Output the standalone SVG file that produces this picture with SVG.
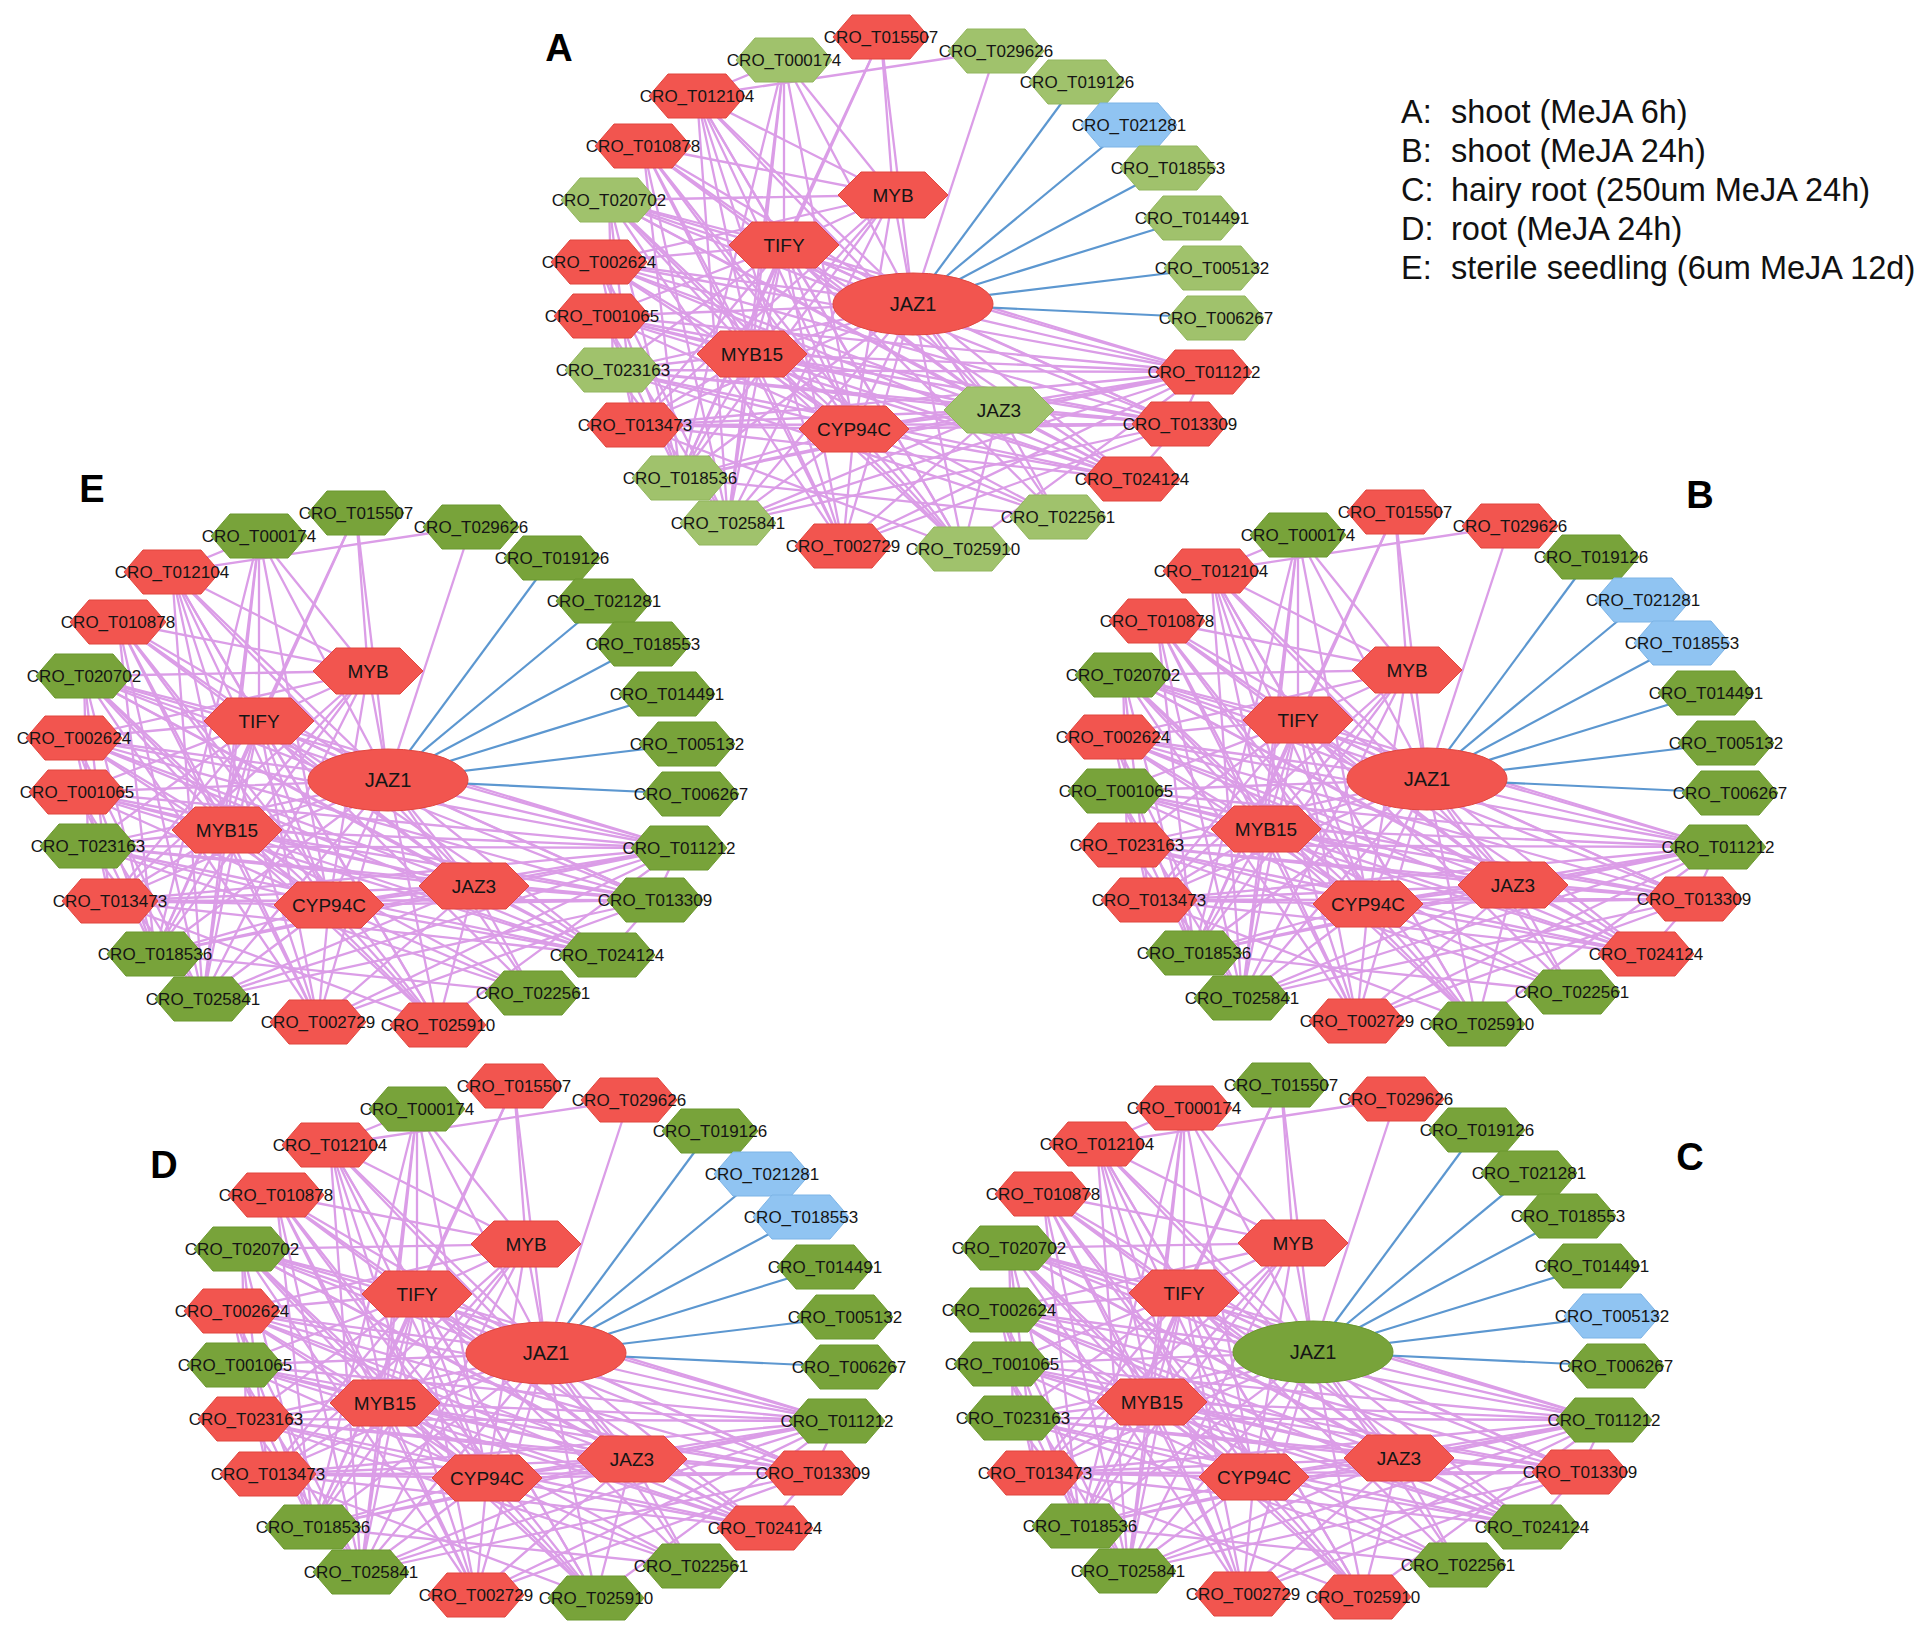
<svg xmlns="http://www.w3.org/2000/svg" xmlns:xlink="http://www.w3.org/1999/xlink" width="1932" height="1636" viewBox="0 0 1932 1636">
<style>
.r{fill:#F2554F;stroke:#E0463F;stroke-width:1}
.g{fill:#78A33A;stroke:#6B982E;stroke-width:1}
.lg{fill:#A0C26C;stroke:#92B65E;stroke-width:1}
.b{fill:#90C4F2;stroke:#7DB4E6;stroke-width:1}
text.n{font-family:"Liberation Sans",Arial,sans-serif;font-size:17px;fill:#151515;text-anchor:middle}
text.i{font-size:19px}
text.j{font-size:20px}
.lab{font-family:"Liberation Sans",Arial,sans-serif;font-weight:bold;font-size:38px;fill:#000;text-anchor:middle}
.leg{font-family:"Liberation Sans",Arial,sans-serif;font-size:32.5px;fill:#111}
</style>
<defs>
<polygon id="ho" points="-48,0 -29,-22 29,-22 48,0 29,22 -29,22"/>
<polygon id="hi" points="-55,0 -32,-23 32,-23 55,0 32,23 -32,23"/>
<g id="netedges">
<g stroke="#DB9DE7" stroke-width="2.3" stroke-linecap="round" fill="none">
<line x1="0" y1="0" x2="-32" y2="-267"/>
<line x1="0" y1="0" x2="83" y2="-253"/>
<line x1="0" y1="0" x2="-129" y2="-244"/>
<line x1="0" y1="0" x2="-216" y2="-208"/>
<line x1="0" y1="0" x2="-270" y2="-158"/>
<line x1="0" y1="0" x2="-304" y2="-104"/>
<line x1="0" y1="0" x2="-314" y2="-42"/>
<line x1="0" y1="0" x2="-311" y2="12"/>
<line x1="0" y1="0" x2="-300" y2="66"/>
<line x1="0" y1="0" x2="-278" y2="121"/>
<line x1="0" y1="0" x2="-233" y2="174"/>
<line x1="0" y1="0" x2="-185" y2="219"/>
<line x1="0" y1="0" x2="-70" y2="242"/>
<line x1="0" y1="0" x2="50" y2="245"/>
<line x1="0" y1="0" x2="145" y2="213"/>
<line x1="0" y1="0" x2="219" y2="175"/>
<line x1="0" y1="0" x2="267" y2="120"/>
<line x1="0" y1="0" x2="291" y2="68"/>
<line x1="0" y1="0" x2="-20" y2="-109"/>
<line x1="0" y1="0" x2="-129" y2="-59"/>
<line x1="0" y1="0" x2="-161" y2="50"/>
<line x1="0" y1="0" x2="-59" y2="125"/>
<line x1="0" y1="0" x2="86" y2="106"/>
<line x1="-20" y1="-109" x2="-32" y2="-267"/>
<line x1="-20" y1="-109" x2="-129" y2="-244"/>
<line x1="-20" y1="-109" x2="-216" y2="-208"/>
<line x1="-20" y1="-109" x2="-270" y2="-158"/>
<line x1="-20" y1="-109" x2="-304" y2="-104"/>
<line x1="-20" y1="-109" x2="-314" y2="-42"/>
<line x1="-20" y1="-109" x2="-129" y2="-59"/>
<line x1="-20" y1="-109" x2="-161" y2="50"/>
<line x1="-20" y1="-109" x2="-59" y2="125"/>
<line x1="-20" y1="-109" x2="-278" y2="121"/>
<line x1="-20" y1="-109" x2="-185" y2="219"/>
<line x1="-20" y1="-109" x2="-233" y2="174"/>
<line x1="-129" y1="-59" x2="-32" y2="-267"/>
<line x1="-129" y1="-59" x2="-129" y2="-244"/>
<line x1="-129" y1="-59" x2="-216" y2="-208"/>
<line x1="-129" y1="-59" x2="-270" y2="-158"/>
<line x1="-129" y1="-59" x2="-304" y2="-104"/>
<line x1="-129" y1="-59" x2="-314" y2="-42"/>
<line x1="-129" y1="-59" x2="-311" y2="12"/>
<line x1="-129" y1="-59" x2="-300" y2="66"/>
<line x1="-129" y1="-59" x2="-278" y2="121"/>
<line x1="-129" y1="-59" x2="-233" y2="174"/>
<line x1="-129" y1="-59" x2="-185" y2="219"/>
<line x1="-129" y1="-59" x2="-70" y2="242"/>
<line x1="-129" y1="-59" x2="50" y2="245"/>
<line x1="-129" y1="-59" x2="145" y2="213"/>
<line x1="-129" y1="-59" x2="219" y2="175"/>
<line x1="-129" y1="-59" x2="267" y2="120"/>
<line x1="-129" y1="-59" x2="291" y2="68"/>
<line x1="-129" y1="-59" x2="-161" y2="50"/>
<line x1="-129" y1="-59" x2="-59" y2="125"/>
<line x1="-129" y1="-59" x2="86" y2="106"/>
<line x1="-161" y1="50" x2="-129" y2="-244"/>
<line x1="-161" y1="50" x2="-216" y2="-208"/>
<line x1="-161" y1="50" x2="-270" y2="-158"/>
<line x1="-161" y1="50" x2="-304" y2="-104"/>
<line x1="-161" y1="50" x2="-314" y2="-42"/>
<line x1="-161" y1="50" x2="-311" y2="12"/>
<line x1="-161" y1="50" x2="-300" y2="66"/>
<line x1="-161" y1="50" x2="-278" y2="121"/>
<line x1="-161" y1="50" x2="-233" y2="174"/>
<line x1="-161" y1="50" x2="-185" y2="219"/>
<line x1="-161" y1="50" x2="-70" y2="242"/>
<line x1="-161" y1="50" x2="50" y2="245"/>
<line x1="-161" y1="50" x2="145" y2="213"/>
<line x1="-161" y1="50" x2="219" y2="175"/>
<line x1="-161" y1="50" x2="267" y2="120"/>
<line x1="-161" y1="50" x2="291" y2="68"/>
<line x1="-161" y1="50" x2="-59" y2="125"/>
<line x1="-161" y1="50" x2="86" y2="106"/>
<line x1="-59" y1="125" x2="-129" y2="-244"/>
<line x1="-59" y1="125" x2="-216" y2="-208"/>
<line x1="-59" y1="125" x2="-270" y2="-158"/>
<line x1="-59" y1="125" x2="-304" y2="-104"/>
<line x1="-59" y1="125" x2="-314" y2="-42"/>
<line x1="-59" y1="125" x2="-311" y2="12"/>
<line x1="-59" y1="125" x2="-300" y2="66"/>
<line x1="-59" y1="125" x2="-278" y2="121"/>
<line x1="-59" y1="125" x2="-233" y2="174"/>
<line x1="-59" y1="125" x2="-185" y2="219"/>
<line x1="-59" y1="125" x2="-70" y2="242"/>
<line x1="-59" y1="125" x2="50" y2="245"/>
<line x1="-59" y1="125" x2="145" y2="213"/>
<line x1="-59" y1="125" x2="219" y2="175"/>
<line x1="-59" y1="125" x2="267" y2="120"/>
<line x1="-59" y1="125" x2="291" y2="68"/>
<line x1="-59" y1="125" x2="86" y2="106"/>
<line x1="86" y1="106" x2="-216" y2="-208"/>
<line x1="86" y1="106" x2="-270" y2="-158"/>
<line x1="86" y1="106" x2="-304" y2="-104"/>
<line x1="86" y1="106" x2="-314" y2="-42"/>
<line x1="86" y1="106" x2="-311" y2="12"/>
<line x1="86" y1="106" x2="-300" y2="66"/>
<line x1="86" y1="106" x2="-278" y2="121"/>
<line x1="86" y1="106" x2="-233" y2="174"/>
<line x1="86" y1="106" x2="-185" y2="219"/>
<line x1="86" y1="106" x2="-70" y2="242"/>
<line x1="86" y1="106" x2="50" y2="245"/>
<line x1="86" y1="106" x2="145" y2="213"/>
<line x1="86" y1="106" x2="219" y2="175"/>
<line x1="86" y1="106" x2="267" y2="120"/>
<line x1="86" y1="106" x2="291" y2="68"/>
<line x1="83" y1="-253" x2="-216" y2="-208"/>
<line x1="-129" y1="-244" x2="-216" y2="-208"/>
<line x1="-129" y1="-244" x2="-185" y2="219"/>
<line x1="-129" y1="-244" x2="-233" y2="174"/>
<line x1="-216" y1="-208" x2="-185" y2="219"/>
<line x1="-216" y1="-208" x2="-70" y2="242"/>
<line x1="-216" y1="-208" x2="50" y2="245"/>
<line x1="-270" y1="-158" x2="-233" y2="174"/>
<line x1="-270" y1="-158" x2="-185" y2="219"/>
<line x1="-270" y1="-158" x2="50" y2="245"/>
<line x1="-270" y1="-158" x2="-70" y2="242"/>
<line x1="-304" y1="-104" x2="-300" y2="66"/>
<line x1="-304" y1="-104" x2="-278" y2="121"/>
<line x1="-304" y1="-104" x2="-233" y2="174"/>
<line x1="-304" y1="-104" x2="291" y2="68"/>
<line x1="-304" y1="-104" x2="267" y2="120"/>
<line x1="-304" y1="-104" x2="219" y2="175"/>
<line x1="-304" y1="-104" x2="-70" y2="242"/>
<line x1="-304" y1="-104" x2="50" y2="245"/>
<line x1="-314" y1="-42" x2="-278" y2="121"/>
<line x1="-314" y1="-42" x2="-233" y2="174"/>
<line x1="-314" y1="-42" x2="291" y2="68"/>
<line x1="-314" y1="-42" x2="267" y2="120"/>
<line x1="-314" y1="-42" x2="219" y2="175"/>
<line x1="-314" y1="-42" x2="-185" y2="219"/>
<line x1="-311" y1="12" x2="-233" y2="174"/>
<line x1="-311" y1="12" x2="291" y2="68"/>
<line x1="-311" y1="12" x2="267" y2="120"/>
<line x1="-311" y1="12" x2="219" y2="175"/>
<line x1="-311" y1="12" x2="-185" y2="219"/>
<line x1="-300" y1="66" x2="291" y2="68"/>
<line x1="-300" y1="66" x2="267" y2="120"/>
<line x1="-300" y1="66" x2="219" y2="175"/>
<line x1="-300" y1="66" x2="145" y2="213"/>
<line x1="-300" y1="66" x2="-185" y2="219"/>
<line x1="-278" y1="121" x2="291" y2="68"/>
<line x1="-278" y1="121" x2="267" y2="120"/>
<line x1="-278" y1="121" x2="219" y2="175"/>
<line x1="-278" y1="121" x2="50" y2="245"/>
<line x1="-233" y1="174" x2="291" y2="68"/>
<line x1="-233" y1="174" x2="145" y2="213"/>
<line x1="-185" y1="219" x2="291" y2="68"/>
<line x1="-185" y1="219" x2="267" y2="120"/>
<line x1="-70" y1="242" x2="291" y2="68"/>
<line x1="-70" y1="242" x2="267" y2="120"/>
<line x1="50" y1="245" x2="291" y2="68"/>
<line x1="291" y1="68" x2="267" y2="120"/>
<line x1="267" y1="120" x2="219" y2="175"/>
<line x1="-32" y1="-267" x2="-233" y2="174"/>
</g>
<g stroke="#5C97D0" stroke-width="2.2" fill="none">
<line x1="0" y1="0" x2="164" y2="-222"/>
<line x1="0" y1="0" x2="216" y2="-179"/>
<line x1="0" y1="0" x2="255" y2="-136"/>
<line x1="0" y1="0" x2="279" y2="-86"/>
<line x1="0" y1="0" x2="299" y2="-36"/>
<line x1="0" y1="0" x2="303" y2="14"/>
</g>
</g>
</defs>
<rect width="1932" height="1636" fill="#fff"/>

<g id="connectors">
<use id="edges-A" xlink:href="#netedges" href="#netedges" transform="translate(913,304)"/>
<use id="edges-E" xlink:href="#netedges" href="#netedges" transform="translate(388,780)"/>
<use id="edges-B" xlink:href="#netedges" href="#netedges" transform="translate(1427,779)"/>
<use id="edges-D" xlink:href="#netedges" href="#netedges" transform="translate(546,1353)"/>
<use id="edges-C" xlink:href="#netedges" href="#netedges" transform="translate(1313,1352)"/>
</g>

<!-- Network A -->
<g id="netA" transform="translate(913,304)">
<g id="A-T015507" transform="translate(-32,-267)"><use href="#ho" class="r"/><text class="n" y="6">CRO_T015507</text></g>
<g id="A-T029626" transform="translate(83,-253)"><use href="#ho" class="lg"/><text class="n" y="6">CRO_T029626</text></g>
<g id="A-T019126" transform="translate(164,-222)"><use href="#ho" class="lg"/><text class="n" y="6">CRO_T019126</text></g>
<g id="A-T021281" transform="translate(216,-179)"><use href="#ho" class="b"/><text class="n" y="6">CRO_T021281</text></g>
<g id="A-T018553" transform="translate(255,-136)"><use href="#ho" class="lg"/><text class="n" y="6">CRO_T018553</text></g>
<g id="A-T014491" transform="translate(279,-86)"><use href="#ho" class="lg"/><text class="n" y="6">CRO_T014491</text></g>
<g id="A-T005132" transform="translate(299,-36)"><use href="#ho" class="lg"/><text class="n" y="6">CRO_T005132</text></g>
<g id="A-T006267" transform="translate(303,14)"><use href="#ho" class="lg"/><text class="n" y="6">CRO_T006267</text></g>
<g id="A-T011212" transform="translate(291,68)"><use href="#ho" class="r"/><text class="n" y="6">CRO_T011212</text></g>
<g id="A-T013309" transform="translate(267,120)"><use href="#ho" class="r"/><text class="n" y="6">CRO_T013309</text></g>
<g id="A-T024124" transform="translate(219,175)"><use href="#ho" class="r"/><text class="n" y="6">CRO_T024124</text></g>
<g id="A-T022561" transform="translate(145,213)"><use href="#ho" class="lg"/><text class="n" y="6">CRO_T022561</text></g>
<g id="A-T025910" transform="translate(50,245)"><use href="#ho" class="lg"/><text class="n" y="6">CRO_T025910</text></g>
<g id="A-T002729" transform="translate(-70,242)"><use href="#ho" class="r"/><text class="n" y="6">CRO_T002729</text></g>
<g id="A-T025841" transform="translate(-185,219)"><use href="#ho" class="lg"/><text class="n" y="6">CRO_T025841</text></g>
<g id="A-T018536" transform="translate(-233,174)"><use href="#ho" class="lg"/><text class="n" y="6">CRO_T018536</text></g>
<g id="A-T013473" transform="translate(-278,121)"><use href="#ho" class="r"/><text class="n" y="6">CRO_T013473</text></g>
<g id="A-T023163" transform="translate(-300,66)"><use href="#ho" class="lg"/><text class="n" y="6">CRO_T023163</text></g>
<g id="A-T001065" transform="translate(-311,12)"><use href="#ho" class="r"/><text class="n" y="6">CRO_T001065</text></g>
<g id="A-T002624" transform="translate(-314,-42)"><use href="#ho" class="r"/><text class="n" y="6">CRO_T002624</text></g>
<g id="A-T020702" transform="translate(-304,-104)"><use href="#ho" class="lg"/><text class="n" y="6">CRO_T020702</text></g>
<g id="A-T010878" transform="translate(-270,-158)"><use href="#ho" class="r"/><text class="n" y="6">CRO_T010878</text></g>
<g id="A-T012104" transform="translate(-216,-208)"><use href="#ho" class="r"/><text class="n" y="6">CRO_T012104</text></g>
<g id="A-T000174" transform="translate(-129,-244)"><use href="#ho" class="lg"/><text class="n" y="6">CRO_T000174</text></g>
<g id="A-MYB" transform="translate(-20,-109)"><use href="#hi" class="r"/><text class="n i" y="7">MYB</text></g>
<g id="A-TIFY" transform="translate(-129,-59)"><use href="#hi" class="r"/><text class="n i" y="7">TIFY</text></g>
<g id="A-MYB15" transform="translate(-161,50)"><use href="#hi" class="r"/><text class="n i" y="7">MYB15</text></g>
<g id="A-CYP94C" transform="translate(-59,125)"><use href="#hi" class="r"/><text class="n i" y="7">CYP94C</text></g>
<g id="A-JAZ3" transform="translate(86,106)"><use href="#hi" class="lg"/><text class="n i" y="7">JAZ3</text></g>
<g id="A-JAZ1"><ellipse rx="80" ry="31" class="r"/><text class="n j" y="7">JAZ1</text></g>
</g>

<!-- Network E -->
<g id="netE" transform="translate(388,780)">
<g id="E-T015507" transform="translate(-32,-267)"><use href="#ho" class="g"/><text class="n" y="6">CRO_T015507</text></g>
<g id="E-T029626" transform="translate(83,-253)"><use href="#ho" class="g"/><text class="n" y="6">CRO_T029626</text></g>
<g id="E-T019126" transform="translate(164,-222)"><use href="#ho" class="g"/><text class="n" y="6">CRO_T019126</text></g>
<g id="E-T021281" transform="translate(216,-179)"><use href="#ho" class="g"/><text class="n" y="6">CRO_T021281</text></g>
<g id="E-T018553" transform="translate(255,-136)"><use href="#ho" class="g"/><text class="n" y="6">CRO_T018553</text></g>
<g id="E-T014491" transform="translate(279,-86)"><use href="#ho" class="g"/><text class="n" y="6">CRO_T014491</text></g>
<g id="E-T005132" transform="translate(299,-36)"><use href="#ho" class="g"/><text class="n" y="6">CRO_T005132</text></g>
<g id="E-T006267" transform="translate(303,14)"><use href="#ho" class="g"/><text class="n" y="6">CRO_T006267</text></g>
<g id="E-T011212" transform="translate(291,68)"><use href="#ho" class="g"/><text class="n" y="6">CRO_T011212</text></g>
<g id="E-T013309" transform="translate(267,120)"><use href="#ho" class="g"/><text class="n" y="6">CRO_T013309</text></g>
<g id="E-T024124" transform="translate(219,175)"><use href="#ho" class="g"/><text class="n" y="6">CRO_T024124</text></g>
<g id="E-T022561" transform="translate(145,213)"><use href="#ho" class="g"/><text class="n" y="6">CRO_T022561</text></g>
<g id="E-T025910" transform="translate(50,245)"><use href="#ho" class="r"/><text class="n" y="6">CRO_T025910</text></g>
<g id="E-T002729" transform="translate(-70,242)"><use href="#ho" class="r"/><text class="n" y="6">CRO_T002729</text></g>
<g id="E-T025841" transform="translate(-185,219)"><use href="#ho" class="g"/><text class="n" y="6">CRO_T025841</text></g>
<g id="E-T018536" transform="translate(-233,174)"><use href="#ho" class="g"/><text class="n" y="6">CRO_T018536</text></g>
<g id="E-T013473" transform="translate(-278,121)"><use href="#ho" class="r"/><text class="n" y="6">CRO_T013473</text></g>
<g id="E-T023163" transform="translate(-300,66)"><use href="#ho" class="g"/><text class="n" y="6">CRO_T023163</text></g>
<g id="E-T001065" transform="translate(-311,12)"><use href="#ho" class="r"/><text class="n" y="6">CRO_T001065</text></g>
<g id="E-T002624" transform="translate(-314,-42)"><use href="#ho" class="r"/><text class="n" y="6">CRO_T002624</text></g>
<g id="E-T020702" transform="translate(-304,-104)"><use href="#ho" class="g"/><text class="n" y="6">CRO_T020702</text></g>
<g id="E-T010878" transform="translate(-270,-158)"><use href="#ho" class="r"/><text class="n" y="6">CRO_T010878</text></g>
<g id="E-T012104" transform="translate(-216,-208)"><use href="#ho" class="r"/><text class="n" y="6">CRO_T012104</text></g>
<g id="E-T000174" transform="translate(-129,-244)"><use href="#ho" class="g"/><text class="n" y="6">CRO_T000174</text></g>
<g id="E-MYB" transform="translate(-20,-109)"><use href="#hi" class="r"/><text class="n i" y="7">MYB</text></g>
<g id="E-TIFY" transform="translate(-129,-59)"><use href="#hi" class="r"/><text class="n i" y="7">TIFY</text></g>
<g id="E-MYB15" transform="translate(-161,50)"><use href="#hi" class="r"/><text class="n i" y="7">MYB15</text></g>
<g id="E-CYP94C" transform="translate(-59,125)"><use href="#hi" class="r"/><text class="n i" y="7">CYP94C</text></g>
<g id="E-JAZ3" transform="translate(86,106)"><use href="#hi" class="r"/><text class="n i" y="7">JAZ3</text></g>
<g id="E-JAZ1"><ellipse rx="80" ry="31" class="r"/><text class="n j" y="7">JAZ1</text></g>
</g>

<!-- Network B -->
<g id="netB" transform="translate(1427,779)">
<g id="B-T015507" transform="translate(-32,-267)"><use href="#ho" class="r"/><text class="n" y="6">CRO_T015507</text></g>
<g id="B-T029626" transform="translate(83,-253)"><use href="#ho" class="r"/><text class="n" y="6">CRO_T029626</text></g>
<g id="B-T019126" transform="translate(164,-222)"><use href="#ho" class="g"/><text class="n" y="6">CRO_T019126</text></g>
<g id="B-T021281" transform="translate(216,-179)"><use href="#ho" class="b"/><text class="n" y="6">CRO_T021281</text></g>
<g id="B-T018553" transform="translate(255,-136)"><use href="#ho" class="b"/><text class="n" y="6">CRO_T018553</text></g>
<g id="B-T014491" transform="translate(279,-86)"><use href="#ho" class="g"/><text class="n" y="6">CRO_T014491</text></g>
<g id="B-T005132" transform="translate(299,-36)"><use href="#ho" class="g"/><text class="n" y="6">CRO_T005132</text></g>
<g id="B-T006267" transform="translate(303,14)"><use href="#ho" class="g"/><text class="n" y="6">CRO_T006267</text></g>
<g id="B-T011212" transform="translate(291,68)"><use href="#ho" class="g"/><text class="n" y="6">CRO_T011212</text></g>
<g id="B-T013309" transform="translate(267,120)"><use href="#ho" class="r"/><text class="n" y="6">CRO_T013309</text></g>
<g id="B-T024124" transform="translate(219,175)"><use href="#ho" class="r"/><text class="n" y="6">CRO_T024124</text></g>
<g id="B-T022561" transform="translate(145,213)"><use href="#ho" class="g"/><text class="n" y="6">CRO_T022561</text></g>
<g id="B-T025910" transform="translate(50,245)"><use href="#ho" class="g"/><text class="n" y="6">CRO_T025910</text></g>
<g id="B-T002729" transform="translate(-70,242)"><use href="#ho" class="r"/><text class="n" y="6">CRO_T002729</text></g>
<g id="B-T025841" transform="translate(-185,219)"><use href="#ho" class="g"/><text class="n" y="6">CRO_T025841</text></g>
<g id="B-T018536" transform="translate(-233,174)"><use href="#ho" class="g"/><text class="n" y="6">CRO_T018536</text></g>
<g id="B-T013473" transform="translate(-278,121)"><use href="#ho" class="r"/><text class="n" y="6">CRO_T013473</text></g>
<g id="B-T023163" transform="translate(-300,66)"><use href="#ho" class="r"/><text class="n" y="6">CRO_T023163</text></g>
<g id="B-T001065" transform="translate(-311,12)"><use href="#ho" class="g"/><text class="n" y="6">CRO_T001065</text></g>
<g id="B-T002624" transform="translate(-314,-42)"><use href="#ho" class="r"/><text class="n" y="6">CRO_T002624</text></g>
<g id="B-T020702" transform="translate(-304,-104)"><use href="#ho" class="g"/><text class="n" y="6">CRO_T020702</text></g>
<g id="B-T010878" transform="translate(-270,-158)"><use href="#ho" class="r"/><text class="n" y="6">CRO_T010878</text></g>
<g id="B-T012104" transform="translate(-216,-208)"><use href="#ho" class="r"/><text class="n" y="6">CRO_T012104</text></g>
<g id="B-T000174" transform="translate(-129,-244)"><use href="#ho" class="g"/><text class="n" y="6">CRO_T000174</text></g>
<g id="B-MYB" transform="translate(-20,-109)"><use href="#hi" class="r"/><text class="n i" y="7">MYB</text></g>
<g id="B-TIFY" transform="translate(-129,-59)"><use href="#hi" class="r"/><text class="n i" y="7">TIFY</text></g>
<g id="B-MYB15" transform="translate(-161,50)"><use href="#hi" class="r"/><text class="n i" y="7">MYB15</text></g>
<g id="B-CYP94C" transform="translate(-59,125)"><use href="#hi" class="r"/><text class="n i" y="7">CYP94C</text></g>
<g id="B-JAZ3" transform="translate(86,106)"><use href="#hi" class="r"/><text class="n i" y="7">JAZ3</text></g>
<g id="B-JAZ1"><ellipse rx="80" ry="31" class="r"/><text class="n j" y="7">JAZ1</text></g>
</g>

<!-- Network D -->
<g id="netD" transform="translate(546,1353)">
<g id="D-T015507" transform="translate(-32,-267)"><use href="#ho" class="r"/><text class="n" y="6">CRO_T015507</text></g>
<g id="D-T029626" transform="translate(83,-253)"><use href="#ho" class="r"/><text class="n" y="6">CRO_T029626</text></g>
<g id="D-T019126" transform="translate(164,-222)"><use href="#ho" class="g"/><text class="n" y="6">CRO_T019126</text></g>
<g id="D-T021281" transform="translate(216,-179)"><use href="#ho" class="b"/><text class="n" y="6">CRO_T021281</text></g>
<g id="D-T018553" transform="translate(255,-136)"><use href="#ho" class="b"/><text class="n" y="6">CRO_T018553</text></g>
<g id="D-T014491" transform="translate(279,-86)"><use href="#ho" class="g"/><text class="n" y="6">CRO_T014491</text></g>
<g id="D-T005132" transform="translate(299,-36)"><use href="#ho" class="g"/><text class="n" y="6">CRO_T005132</text></g>
<g id="D-T006267" transform="translate(303,14)"><use href="#ho" class="g"/><text class="n" y="6">CRO_T006267</text></g>
<g id="D-T011212" transform="translate(291,68)"><use href="#ho" class="g"/><text class="n" y="6">CRO_T011212</text></g>
<g id="D-T013309" transform="translate(267,120)"><use href="#ho" class="r"/><text class="n" y="6">CRO_T013309</text></g>
<g id="D-T024124" transform="translate(219,175)"><use href="#ho" class="r"/><text class="n" y="6">CRO_T024124</text></g>
<g id="D-T022561" transform="translate(145,213)"><use href="#ho" class="g"/><text class="n" y="6">CRO_T022561</text></g>
<g id="D-T025910" transform="translate(50,245)"><use href="#ho" class="g"/><text class="n" y="6">CRO_T025910</text></g>
<g id="D-T002729" transform="translate(-70,242)"><use href="#ho" class="r"/><text class="n" y="6">CRO_T002729</text></g>
<g id="D-T025841" transform="translate(-185,219)"><use href="#ho" class="g"/><text class="n" y="6">CRO_T025841</text></g>
<g id="D-T018536" transform="translate(-233,174)"><use href="#ho" class="g"/><text class="n" y="6">CRO_T018536</text></g>
<g id="D-T013473" transform="translate(-278,121)"><use href="#ho" class="r"/><text class="n" y="6">CRO_T013473</text></g>
<g id="D-T023163" transform="translate(-300,66)"><use href="#ho" class="r"/><text class="n" y="6">CRO_T023163</text></g>
<g id="D-T001065" transform="translate(-311,12)"><use href="#ho" class="g"/><text class="n" y="6">CRO_T001065</text></g>
<g id="D-T002624" transform="translate(-314,-42)"><use href="#ho" class="r"/><text class="n" y="6">CRO_T002624</text></g>
<g id="D-T020702" transform="translate(-304,-104)"><use href="#ho" class="g"/><text class="n" y="6">CRO_T020702</text></g>
<g id="D-T010878" transform="translate(-270,-158)"><use href="#ho" class="r"/><text class="n" y="6">CRO_T010878</text></g>
<g id="D-T012104" transform="translate(-216,-208)"><use href="#ho" class="r"/><text class="n" y="6">CRO_T012104</text></g>
<g id="D-T000174" transform="translate(-129,-244)"><use href="#ho" class="g"/><text class="n" y="6">CRO_T000174</text></g>
<g id="D-MYB" transform="translate(-20,-109)"><use href="#hi" class="r"/><text class="n i" y="7">MYB</text></g>
<g id="D-TIFY" transform="translate(-129,-59)"><use href="#hi" class="r"/><text class="n i" y="7">TIFY</text></g>
<g id="D-MYB15" transform="translate(-161,50)"><use href="#hi" class="r"/><text class="n i" y="7">MYB15</text></g>
<g id="D-CYP94C" transform="translate(-59,125)"><use href="#hi" class="r"/><text class="n i" y="7">CYP94C</text></g>
<g id="D-JAZ3" transform="translate(86,106)"><use href="#hi" class="r"/><text class="n i" y="7">JAZ3</text></g>
<g id="D-JAZ1"><ellipse rx="80" ry="31" class="r"/><text class="n j" y="7">JAZ1</text></g>
</g>

<!-- Network C -->
<g id="netC" transform="translate(1313,1352)">
<g id="C-T015507" transform="translate(-32,-267)"><use href="#ho" class="g"/><text class="n" y="6">CRO_T015507</text></g>
<g id="C-T029626" transform="translate(83,-253)"><use href="#ho" class="r"/><text class="n" y="6">CRO_T029626</text></g>
<g id="C-T019126" transform="translate(164,-222)"><use href="#ho" class="g"/><text class="n" y="6">CRO_T019126</text></g>
<g id="C-T021281" transform="translate(216,-179)"><use href="#ho" class="g"/><text class="n" y="6">CRO_T021281</text></g>
<g id="C-T018553" transform="translate(255,-136)"><use href="#ho" class="g"/><text class="n" y="6">CRO_T018553</text></g>
<g id="C-T014491" transform="translate(279,-86)"><use href="#ho" class="g"/><text class="n" y="6">CRO_T014491</text></g>
<g id="C-T005132" transform="translate(299,-36)"><use href="#ho" class="b"/><text class="n" y="6">CRO_T005132</text></g>
<g id="C-T006267" transform="translate(303,14)"><use href="#ho" class="g"/><text class="n" y="6">CRO_T006267</text></g>
<g id="C-T011212" transform="translate(291,68)"><use href="#ho" class="g"/><text class="n" y="6">CRO_T011212</text></g>
<g id="C-T013309" transform="translate(267,120)"><use href="#ho" class="r"/><text class="n" y="6">CRO_T013309</text></g>
<g id="C-T024124" transform="translate(219,175)"><use href="#ho" class="g"/><text class="n" y="6">CRO_T024124</text></g>
<g id="C-T022561" transform="translate(145,213)"><use href="#ho" class="g"/><text class="n" y="6">CRO_T022561</text></g>
<g id="C-T025910" transform="translate(50,245)"><use href="#ho" class="r"/><text class="n" y="6">CRO_T025910</text></g>
<g id="C-T002729" transform="translate(-70,242)"><use href="#ho" class="r"/><text class="n" y="6">CRO_T002729</text></g>
<g id="C-T025841" transform="translate(-185,219)"><use href="#ho" class="g"/><text class="n" y="6">CRO_T025841</text></g>
<g id="C-T018536" transform="translate(-233,174)"><use href="#ho" class="g"/><text class="n" y="6">CRO_T018536</text></g>
<g id="C-T013473" transform="translate(-278,121)"><use href="#ho" class="r"/><text class="n" y="6">CRO_T013473</text></g>
<g id="C-T023163" transform="translate(-300,66)"><use href="#ho" class="g"/><text class="n" y="6">CRO_T023163</text></g>
<g id="C-T001065" transform="translate(-311,12)"><use href="#ho" class="g"/><text class="n" y="6">CRO_T001065</text></g>
<g id="C-T002624" transform="translate(-314,-42)"><use href="#ho" class="g"/><text class="n" y="6">CRO_T002624</text></g>
<g id="C-T020702" transform="translate(-304,-104)"><use href="#ho" class="g"/><text class="n" y="6">CRO_T020702</text></g>
<g id="C-T010878" transform="translate(-270,-158)"><use href="#ho" class="r"/><text class="n" y="6">CRO_T010878</text></g>
<g id="C-T012104" transform="translate(-216,-208)"><use href="#ho" class="r"/><text class="n" y="6">CRO_T012104</text></g>
<g id="C-T000174" transform="translate(-129,-244)"><use href="#ho" class="r"/><text class="n" y="6">CRO_T000174</text></g>
<g id="C-MYB" transform="translate(-20,-109)"><use href="#hi" class="r"/><text class="n i" y="7">MYB</text></g>
<g id="C-TIFY" transform="translate(-129,-59)"><use href="#hi" class="r"/><text class="n i" y="7">TIFY</text></g>
<g id="C-MYB15" transform="translate(-161,50)"><use href="#hi" class="r"/><text class="n i" y="7">MYB15</text></g>
<g id="C-CYP94C" transform="translate(-59,125)"><use href="#hi" class="r"/><text class="n i" y="7">CYP94C</text></g>
<g id="C-JAZ3" transform="translate(86,106)"><use href="#hi" class="r"/><text class="n i" y="7">JAZ3</text></g>
<g id="C-JAZ1"><ellipse rx="80" ry="31" class="g"/><text class="n j" y="7">JAZ1</text></g>
</g>

<g id="panel-labels">
<text class="lab" x="559" y="61">A</text>
<text class="lab" x="92" y="502">E</text>
<text class="lab" x="1700" y="508">B</text>
<text class="lab" x="164" y="1178">D</text>
<text class="lab" x="1690" y="1170">C</text>
</g>

<g id="legend">
<text class="leg" y="123"><tspan x="1401">A:</tspan><tspan x="1451">shoot (MeJA 6h)</tspan></text>
<text class="leg" y="162"><tspan x="1401">B:</tspan><tspan x="1451">shoot (MeJA 24h)</tspan></text>
<text class="leg" y="201"><tspan x="1401">C:</tspan><tspan x="1451">hairy root (250um MeJA 24h)</tspan></text>
<text class="leg" y="240"><tspan x="1401">D:</tspan><tspan x="1451">root (MeJA 24h)</tspan></text>
<text class="leg" y="279"><tspan x="1401">E:</tspan><tspan x="1451">sterile seedling (6um MeJA 12d)</tspan></text>
</g>
</svg>
